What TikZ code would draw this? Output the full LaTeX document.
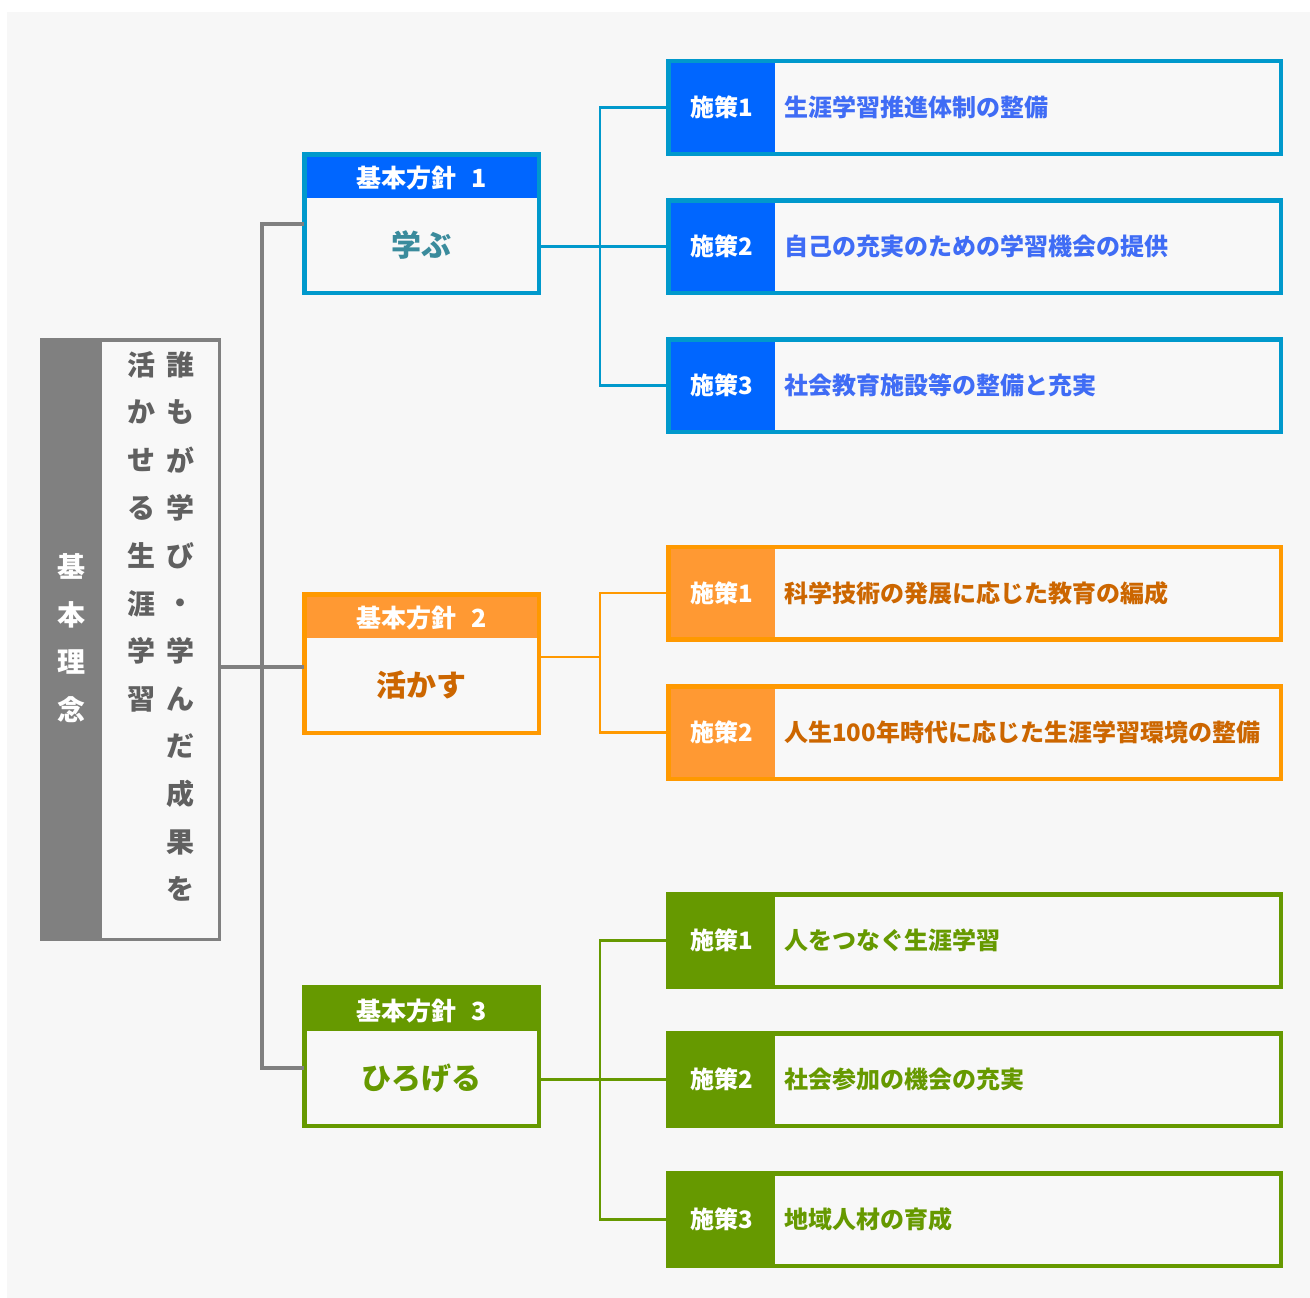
\documentclass[tikz,border=0pt]{standalone}
\usepackage{fontspec}
\setmainfont{Noto Sans CJK JP}
\usetikzlibrary{calc}
\definecolor{bggray}{HTML}{F7F7F7}
\definecolor{panel}{HTML}{F8F8F8}
\definecolor{kgray}{HTML}{808080}
\definecolor{vtext}{HTML}{606060}
\definecolor{bBorder}{HTML}{0099CC}
\definecolor{bHead}{HTML}{0066FF}
\definecolor{bText}{HTML}{3A8B9C}
\definecolor{bMeas}{HTML}{3F6CF5}
\definecolor{oBorder}{HTML}{FF9900}
\definecolor{oHead}{HTML}{FF9933}
\definecolor{oText}{HTML}{CC6600}
\definecolor{gBorder}{HTML}{669900}
\definecolor{gHead}{HTML}{669900}
\definecolor{gText}{HTML}{669900}
\begin{document}
\begin{tikzpicture}[x=1pt,y=-1pt,
  pbox/.style 2 args={rectangle, draw=#1, line width=4.5pt, outer sep=0pt, inner sep=0pt,
    minimum width=234.5pt, minimum height=138.5pt, fill=panel,
    path picture={\fill[#2] (path picture bounding box.north west) rectangle ([yshift=-44pt]path picture bounding box.north east);}},
  mbox/.style 2 args={rectangle, draw=#1, line width=4.5pt, outer sep=0pt, inner sep=0pt,
    minimum width=612.5pt, minimum height=92.5pt, fill=panel,
    path picture={\fill[#2] (path picture bounding box.north west) rectangle ([xshift=107pt]path picture bounding box.south west);}},
  htext/.style={text=white, font=\fontsize{25}{30}\selectfont\bfseries, inner sep=0pt},
  btext/.style={text=#1, font=\fontsize{30}{36}\selectfont\bfseries, inner sep=0pt},
  mlab/.style={text=white, font=\fontsize{24}{28}\selectfont\bfseries, inner sep=0pt},
  mtext/.style={text=#1, font=\fontsize{24}{30}\selectfont\bfseries, inner sep=0pt, anchor=west},
  vchar/.style={text=#1, font=\fontsize{28}{30}\selectfont\bfseries, inner sep=0pt},
  gline/.style={draw=kgray, line width=4pt},
  cline/.style={draw=#1, line width=2.6pt},
]
\useasboundingbox (0,0) rectangle (1310,1298);
\fill[bggray] (7,12) rectangle (1310,1298);

% basic philosophy box
\node[rectangle, draw=kgray, line width=3.5pt, fill=panel, outer sep=0pt, inner sep=0pt,
  minimum width=177.5pt, minimum height=599.5pt,
  path picture={\fill[kgray] (path picture bounding box.north west) rectangle ([xshift=60pt]path picture bounding box.south west);}]
  (k) at (130.5,639.5) {};
\foreach \c [count=\i] in {基,本,理,念}
  \node[vchar=white] (kc\i) at (71,{567+47.7*(\i-1)}) {\vphantom{国}\c};
\foreach \c [count=\i] in {誰,も,が,学,び,・,学,ん,だ,成,果,を}
  \node[vchar=vtext] (va\i) at (180,{365+47.7*(\i-1)}) {\vphantom{国}\c};
\foreach \c [count=\i] in {活,か,せ,る,生,涯,学,習}
  \node[vchar=vtext] (vb\i) at (141,{365+47.7*(\i-1)}) {\vphantom{国}\c};

% policy boxes
\node[pbox={bBorder}{bHead}] (p1) at (421.5,223.5) {};
\node[htext] (p1h) at (421.5,178) {基本方針\hspace{0.6em}1};
\node[btext=bText] (p1b) at (421.5,245) {学ぶ};
\node[pbox={oBorder}{oHead}] (p2) at (421.5,663.5) {};
\node[htext] (p2h) at (421.5,618) {基本方針\hspace{0.6em}2};
\node[btext=oText] (p2b) at (421.5,685) {活かす};
\node[pbox={gBorder}{gHead}] (p3) at (421.5,1056.5) {};
\node[htext] (p3h) at (421.5,1011) {基本方針\hspace{0.6em}3};
\node[btext=gText] (p3b) at (421.5,1078) {ひろげる};

% measures
\node[mbox={bBorder}{bHead}] (m11) at (974.5,107.5) {};
\node[mlab] (m11l) at (721.5,107.5) {施策1};
\node[mtext=bMeas] (m11t) at (784,107.5) {生涯学習推進体制の整備};
\node[mbox={bBorder}{bHead}] (m12) at (974.5,246.5) {};
\node[mlab] (m12l) at (721.5,246.5) {施策2};
\node[mtext=bMeas] (m12t) at (784,246.5) {自己の充実のための学習機会の提供};
\node[mbox={bBorder}{bHead}] (m13) at (974.5,385.5) {};
\node[mlab] (m13l) at (721.5,385.5) {施策3};
\node[mtext=bMeas] (m13t) at (784,385.5) {社会教育施設等の整備と充実};

\node[mbox={oBorder}{oHead}] (m21) at (974.5,593) {};
\node[mlab] (m21l) at (721.5,593) {施策1};
\node[mtext=oText] (m21t) at (784,593) {科学技術の発展に応じた教育の編成};
\node[mbox={oBorder}{oHead}] (m22) at (974.5,732.5) {};
\node[mlab] (m22l) at (721.5,732.5) {施策2};
\node[mtext=oText] (m22t) at (784,732.5) {人生100年時代に応じた生涯学習環境の整備};

\node[mbox={gBorder}{gHead}] (m31) at (974.5,940.5) {};
\node[mlab] (m31l) at (721.5,940.5) {施策1};
\node[mtext=gText] (m31t) at (784,940.5) {人をつなぐ生涯学習};
\node[mbox={gBorder}{gHead}] (m32) at (974.5,1079.5) {};
\node[mlab] (m32l) at (721.5,1079.5) {施策2};
\node[mtext=gText] (m32t) at (784,1079.5) {社会参加の機会の充実};
\node[mbox={gBorder}{gHead}] (m33) at (974.5,1219.5) {};
\node[mlab] (m33l) at (721.5,1219.5) {施策3};
\node[mtext=gText] (m33t) at (784,1219.5) {地域人材の育成};

% gray tree
\coordinate (g2) at (262,667);
\coordinate (g3) at (262,1068);
\draw[gline] (p1.west) -| (g3) -- (p3.west |- g3);
\draw[gline] (k.east |- g2) -- (p2.west |- g2);

% blue
\coordinate (j1) at (600,246.5);
\draw[cline=bBorder] (m11.west) -| (j1) |- (m13.west);
\draw[cline=bBorder] (p1.east |- m12.west) -- (m12.west);
% orange
\coordinate (j2) at (600,657);
\draw[cline=oBorder] (m21.west) -| (j2) |- (m22.west);
\draw[cline=oBorder] (p2.east |- j2) -- (j2);
% green
\coordinate (j3) at (600,1079.5);
\draw[cline=gBorder] (m31.west) -| (j3) |- (m33.west);
\draw[cline=gBorder] (p3.east |- m32.west) -- (m32.west);
\end{tikzpicture}
\end{document}
